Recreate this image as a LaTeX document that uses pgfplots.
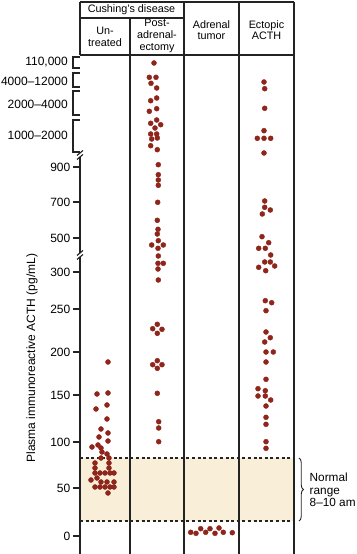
\documentclass[border=0pt]{standalone}
\usepackage{fontspec}
\setmainfont{Liberation Sans}
\usepackage{pgfplots}
\pgfplotsset{compat=1.18}
\usetikzlibrary{decorations.pathreplacing}
\definecolor{dot}{RGB}{143,38,28}
\definecolor{band}{RGB}{249,239,216}
\definecolor{ln}{RGB}{35,35,35}

\begin{document}
\begin{tikzpicture}[
  lab/.style={font=\fontsize{12bp}{12.8bp}\selectfont, inner sep=0pt},
  hdr/.style={font=\fontsize{10.8bp}{11.6bp}\selectfont, align=center, inner sep=0pt},
  fr/.style={line width=1.15bp, color=ln}]
\begin{axis}[
  scale only axis, width=214bp, height=499bp,
  xmin=80, xmax=294, ymin=0, ymax=499,
  clip=false,
  axis lines*=left, axis line style={draw=none},
  xtick=\empty,
  ytick={18,66,112,159,202,245,282,316,352,387},
  yticklabels={0,50,100,150,200,250,300,500,700,900},
  tick align=outside, major tick length=7bp,
  tick style={line width=1.15bp, color=ln},
  yticklabel style={font=\fontsize{12bp}{13bp}\selectfont, inner sep=2.5bp},
  dots/.style={only marks, mark=*, mark size=2.5bp, color=dot, mark options={draw=dot, fill=dot}},
]
% normal range band (display units)
\addplot[fill=band, draw=none] coordinates {(80,33) (294,33) (294,96) (80,96)} -- cycle;
\addplot[ln, line width=1.1bp, dash pattern=on 3bp off 2.6bp] coordinates {(80,96) (294,96)};
\addplot[ln, line width=1.1bp, dash pattern=on 3bp off 2.6bp] coordinates {(80,33) (294,33)};

% frame and header lines
\draw[fr] (80,552) -- (294,552);
\draw[fr] (80,536) -- (184,536);
\draw[fr] (80,499) -- (294,499);
\draw[fr] (80,552) -- (80,499);
\draw[fr] (130,536) -- (130,0);
\draw[fr] (184,552) -- (184,0);
\draw[fr] (239,552) -- (239,0);
\draw[fr] (294,552) -- (294,0);
% left axis with breaks
\draw[fr] (80,0) -- (80,297);
\draw[fr] (80,301) -- (80,397);
\draw[fr] (77,294.5) -- (83,299.5);
\draw[fr] (77,298.5) -- (83,303.5);
\draw[fr] (77,394.5) -- (83,399.5);
\draw[fr] (77,398.5) -- (83,403.5);
% brackets for compressed ranges
\draw[fr] (80,497) -- (73,497) -- (73,486) -- (80,486);
\draw[fr] (80,481) -- (73,481) -- (73,467) -- (80,467);
\draw[fr] (80,463) -- (73,463) -- (73,439) -- (80,439);
\draw[fr] (80,434) -- (73,434) -- (73,402) -- (80,402);
\node[lab, anchor=east] at (68,492) {110,000};
\node[lab, anchor=east] at (68,473) {4000–12000};
\node[lab, anchor=east] at (68,450) {2000–4000};
\node[lab, anchor=east] at (68,419) {1000–2000};

% header text
\node[hdr] at (131.5,544) {Cushing's disease};
\node[hdr] at (105,517) {Un-\\treated};
\node[hdr] at (157,518) {Post-\\adrenal-\\ectomy};
\node[hdr] at (211.5,524) {Adrenal\\tumor};
\node[hdr] at (266.5,524) {Ectopic\\ACTH};

% y label
\node[lab, rotate=90] at (32,196) {Plasma immunoreactive ACTH (pg/mL)};

% brace and normal range text
\draw[fr, line width=0.9bp, decorate, decoration={brace, amplitude=4.5bp}] (299,96) -- (299,33);
\node[lab, anchor=west, align=left, font=\fontsize{11.8bp}{12.7bp}\selectfont] at (309.5,64) {Normal\\range\\8–10 am};

% Untreated
\addplot[dots] coordinates {
(108,192) (97,160) (108,161) (107,149) (96,145) (107,135) (101,125) (108,121) (99,117) (108,113)
(92,107) (98,109) (101,106) (102,102) (107,100) (101,96) (109,96) (95,91) (109,91) (95,86) (109,86)
(95,81) (100,81) (105,81) (110,81) (114,81) (91,74) (97,76) (101,72) (107,72) (114,72)
(95,67) (100,67) (105,67) (110,67) (114,67) (108,61)
};
% Post-adrenalectomy
\addplot[dots] coordinates {
(154,491) (149.3,476.7) (156,476.7) (151,470.7) (156.7,466) (150.7,453.3) (156.7,456) (149.3,442.7)
(156.7,445.3) (156.7,434) (150.7,430.7) (160.7,429.3) (155,426) (150.7,420) (156.7,420) (151.7,415)
(157.3,416) (150.7,408.3) (157.3,404.3) (158.3,389.3) (158.3,379.3) (158.3,374) (158.3,368.7)
(157.7,351.7) (157.3,333.7) (158,324.7) (157.3,320) (158.3,313.3) (151.7,309) (163.3,309) (158,305.7)
(158.3,298) (158,290.7) (163.3,290.7) (158,285) (158.3,274) (157.3,229.7) (152.7,225.3) (162,224.7)
(157.3,220.7) (157.3,193.3) (152.7,189.3) (162,189.3) (157.3,185.7) (157.3,160.7) (158.7,132.3)
(158.7,126) (158.7,112.3)
};
% Adrenal tumor
\addplot[dots] coordinates {
(190.7,21.7) (196,20.7) (200.7,25.3) (205.7,21.7) (210,25.3) (215,20.7) (219,26) (223.3,21.7) (232.3,21.3)
};
% Ectopic ACTH
\addplot[dots] coordinates {
(264,472) (264.7,465.3) (264.7,445.7) (264,423.3) (257.3,415.7) (264,415.7) (270.7,415.7) (264,401)
(264.7,353) (264.7,346.7) (270.3,344) (262.3,340) (262,317.3) (268.7,311.3) (258.7,305.7) (265.3,305.7)
(270.7,299) (264.7,292) (270.3,292) (258.7,286.7) (274.7,288) (265.7,283.3) (265.3,253.3) (271.7,251.3)
(266,243.3) (266,222) (270.3,216.3) (264.7,212) (266,202) (273.3,202) (266,192) (266,174.7) (258,165.3)
(265.3,163.3) (258,158) (265.3,158) (270.7,154) (266,148) (266,136.7) (266,129.7) (266,112.3) (266,105.7)
};

\coordinate (BL) at (0,0);
\coordinate (TR) at (357,554);
\end{axis}
\pgfresetboundingbox
\useasboundingbox (BL) rectangle (TR);
\end{tikzpicture}
\end{document}
